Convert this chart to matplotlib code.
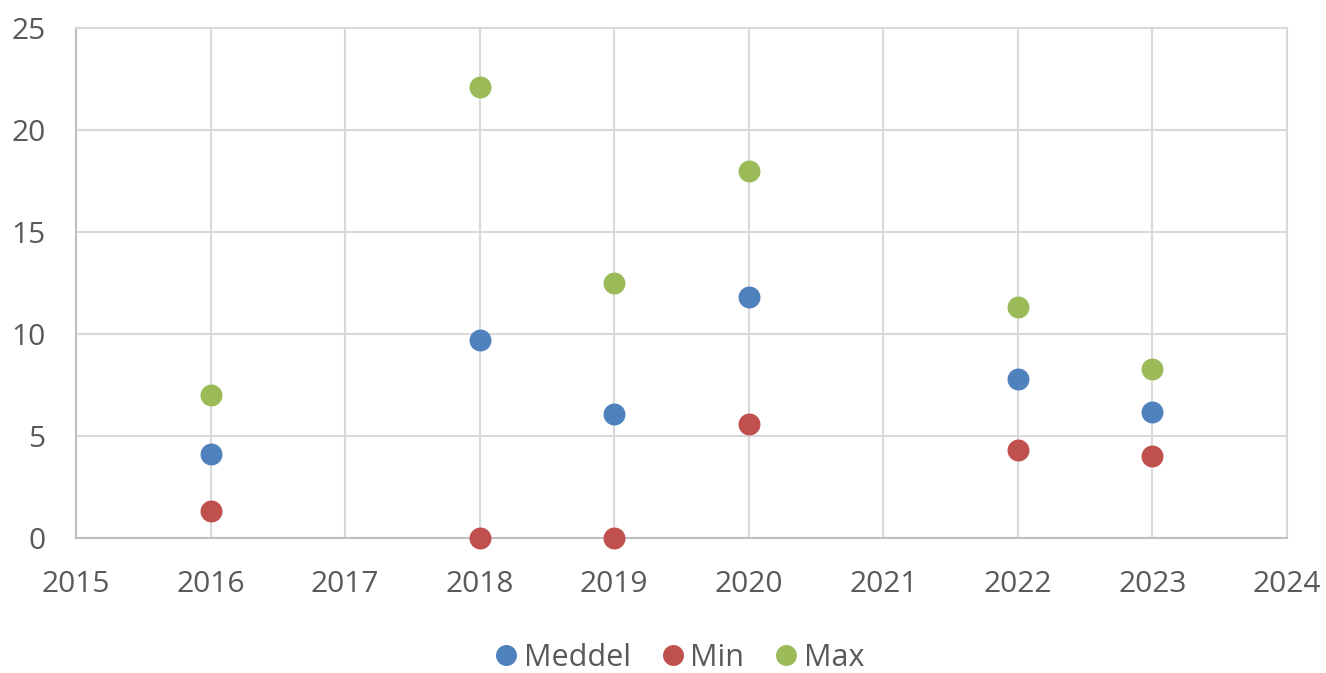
import matplotlib
matplotlib.use("Agg")
import matplotlib.pyplot as plt

years = [2016, 2018, 2019, 2020, 2022, 2023]
meddel = [4.1, 9.7, 6.1, 11.8, 7.8, 6.2]
minv = [1.3, 0.0, 0.0, 5.6, 4.3, 4.0]
maxv = [7.0, 22.1, 12.5, 18.0, 11.3, 8.3]
series = [("Meddel", meddel, "#4F81BD"), ("Min", minv, "#C0504D"), ("Max", maxv, "#9BBB59")]
xticks = list(range(2015, 2025))
yticks = [0, 5, 10, 15, 20, 25]

plt.rcParams['font.family'] = ['Open Sans', 'DejaVu Sans']
txt = "#595959"

fig = plt.figure(figsize=(13.26, 6.73), dpi=100)
ax = fig.add_axes([76/1326, 1-538/673, (1287-76)/1326, (538-28)/673])

for name, vals, c in series:
    ax.plot(years, vals, linestyle='none', marker='o', markersize=14.8,
            color=c, label=name, clip_on=False, zorder=3)

ax.set_xlim(2015, 2024)
ax.set_ylim(0, 25)
ax.set_xticks(xticks)
ax.set_yticks(yticks)
ax.grid(True, color="#D9D9D9", linewidth=1.5, zorder=0)
ax.set_axisbelow(True)
for s in ['top', 'right']:
    ax.spines[s].set_color("#D9D9D9")
    ax.spines[s].set_linewidth(1.5)
for s in ['left', 'bottom']:
    ax.spines[s].set_color("#BFBFBF")
    ax.spines[s].set_linewidth(1.5)
ax.tick_params(axis='both', length=0, labelsize=21.5, labelcolor=txt)
ax.tick_params(axis='x', pad=23)
ax.tick_params(axis='y', pad=22)

leg = fig.legend(loc='center', bbox_to_anchor=(681/1326, 1-658/673), ncol=3, frameon=False,
                 fontsize=22, handlelength=0.55, handletextpad=0.3, columnspacing=1.1,
                 markerscale=0.95)
for t in leg.get_texts():
    t.set_color(txt)

fig.savefig("out.png", dpi=100)
